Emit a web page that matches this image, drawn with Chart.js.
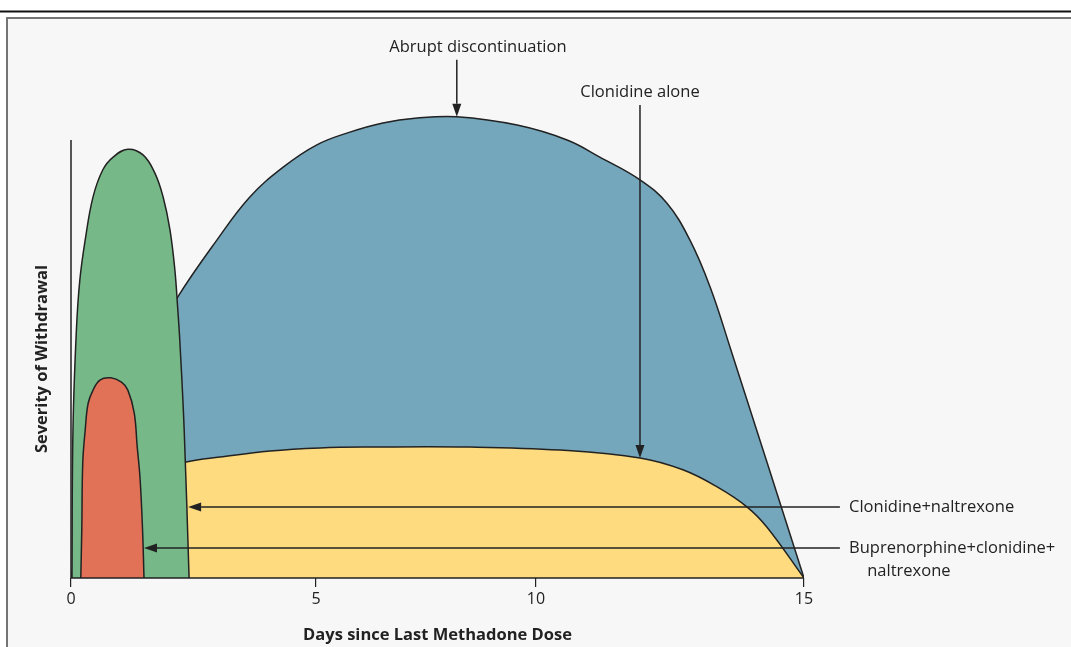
<!DOCTYPE html>
<html>
<head>
<meta charset="utf-8">
<script src="https://cdn.jsdelivr.net/npm/chart.js@4/dist/chart.umd.min.js"></script>
<style>
  html, body { margin: 0; padding: 0; background: #fff; }
  #wrap { width: 1071px; height: 647px; position: relative; }
</style>
</head>
<body>
<div id="wrap"><canvas id="withdrawalChart" width="1071" height="647"></canvas></div>
<script>
// days since last dose (x) and severity (y, 100 = top of axis)
const abruptDays = [0, 0.2, 0.8, 1.4, 2.18, 2.98, 3.65, 4.33, 5.02, 5.77, 6.52, 7.3, 8.2, 9.57, 10.58, 11.19, 11.94, 12.44, 12.87, 13.25, 13.62, 15];
const abruptSeverity = [0, 12, 33, 49, 64.2, 77.2, 87.0, 93.8, 98.9, 101.8, 103.9, 105.0, 105.3, 103.4, 100, 96.1, 90.9, 85.6, 77.2, 66.4, 52.7, 0];

const clonidineDays = [0, 0.3, 1.4, 2.35, 3.04, 4.06, 5.09, 6.23, 8.5, 10.45, 11.94, 12.74, 13.38, 13.94, 14.31, 15];
const clonidineSeverity = [0, 12, 24, 26.5, 27.6, 29.0, 29.7, 29.9, 29.9, 29.2, 27.4, 24.7, 20.8, 16.2, 11.6, 0];

const naltrexoneDays = [0.02, 0.04, 0.11, 0.18, 0.29, 0.45, 0.65, 0.86, 1.16, 1.47, 1.71, 1.88, 2.02, 2.12, 2.18, 2.22, 2.31, 2.41];
const naltrexoneSeverity = [0, 33.8, 56.6, 68.0, 77.2, 87.0, 93.2, 96.1, 97.9, 96.6, 92.5, 87.0, 79.5, 70.3, 61.2, 54.3, 33.8, 0];

const buprenorphineDays = [0.2, 0.22, 0.24, 0.29, 0.35, 0.45, 0.59, 0.81, 1.03, 1.16, 1.29, 1.35, 1.41, 1.46, 1.49];
const buprenorphineSeverity = [0, 11, 26.3, 33.8, 39.9, 42.9, 45.2, 45.7, 44.7, 42.9, 37.7, 30.1, 22.6, 11, 0];

const xTicks = [0, 5, 10, 15];
// the printed day axis is not evenly spaced: share of axis width at each tick
const xTickShare = [0, 245 / 733, 465 / 733, 1];

const toPoints = (xs, ys) => xs.map((x, i) => ({ x: x, y: ys[i] }));

const FONT = "'Open Sans', Lato, sans-serif";

// piecewise linear day axis, like the drawn one
class PiecewiseScale extends Chart.LinearScale {
  toShare(v) {
    let i = 1;
    while (i < xTicks.length - 1 && v > xTicks[i]) i++;
    const t = (v - xTicks[i - 1]) / (xTicks[i] - xTicks[i - 1]);
    return xTickShare[i - 1] + t * (xTickShare[i] - xTickShare[i - 1]);
  }
  getPixelForValue(value) {
    return this.getPixelForDecimal(this.toShare(value));
  }
  getValueForPixel(pixel) {
    const d = this.getDecimalForPixel(pixel);
    let i = 1;
    while (i < xTickShare.length - 1 && d > xTickShare[i]) i++;
    const t = (d - xTickShare[i - 1]) / (xTickShare[i] - xTickShare[i - 1]);
    return xTicks[i - 1] + t * (xTicks[i] - xTicks[i - 1]);
  }
}
PiecewiseScale.id = "piecewise";
PiecewiseScale.defaults = Chart.LinearScale.defaults;
Chart.register(PiecewiseScale);

// arrows: tip and tail in data units
const arrows = [
  { tip: [8.2, 105.3], tail: [8.2, 118.3] },
  { tip: [11.94, 27.4], tail: [11.94, 108] },
  { tip: [2.39, 16.2], tail: [15.67, 16.2] },
  { tip: [1.49, 6.85], tail: [15.67, 6.85] },
];
const labels = [
  { text: "Abrupt discontinuation", at: [8.68, 121.2], align: "center" },
  { text: "Clonidine alone", at: [11.94, 111], align: "center" },
  { text: "Clonidine+naltrexone", at: [15.84, 16.2], align: "left" },
  { text: "Buprenorphine+clonidine+", at: [15.84, 6.85], align: "left" },
  { text: "naltrexone", at: [16.18, 1.6], align: "left" },
];

const framePlugin = {
  id: "frame",
  beforeDraw(chart) {
    const ctx = chart.ctx;
    ctx.save();
    ctx.fillStyle = "#ffffff";
    ctx.fillRect(0, 0, chart.width, chart.height);
    ctx.fillStyle = "#f7f7f7";
    ctx.fillRect(7, 18, chart.width, chart.height);
    ctx.strokeStyle = "#747474";
    ctx.lineWidth = 2;
    ctx.beginPath();
    ctx.moveTo(7, chart.height + 2);
    ctx.lineTo(7, 18);
    ctx.lineTo(chart.width + 2, 18);
    ctx.stroke();
    ctx.strokeStyle = "#111";
    ctx.lineWidth = 2;
    ctx.beginPath();
    ctx.moveTo(0, 11.5);
    ctx.lineTo(chart.width, 11.5);
    ctx.stroke();
    ctx.restore();
  },
  afterDatasetsDraw(chart) {
    const ctx = chart.ctx;
    const xs = chart.scales.x, ys = chart.scales.y;
    ctx.save();
    // axes
    ctx.strokeStyle = "#222";
    ctx.lineWidth = 1.5;
    ctx.beginPath();
    ctx.moveTo(xs.getPixelForValue(0), ys.getPixelForValue(100));
    ctx.lineTo(xs.getPixelForValue(0), ys.getPixelForValue(0));
    ctx.lineTo(xs.getPixelForValue(15), ys.getPixelForValue(0));
    ctx.stroke();

    // arrows
    ctx.strokeStyle = "#222";
    ctx.fillStyle = "#222";
    ctx.lineWidth = 1.5;
    arrows.forEach((a) => {
      const tx = xs.getPixelForValue(a.tip[0]), ty = ys.getPixelForValue(a.tip[1]);
      const sx = xs.getPixelForValue(a.tail[0]), sy = ys.getPixelForValue(a.tail[1]);
      const ang = Math.atan2(ty - sy, tx - sx);
      const len = 13, half = 4.5;
      const bx = tx - len * Math.cos(ang), by = ty - len * Math.sin(ang);
      ctx.beginPath();
      ctx.moveTo(sx, sy);
      ctx.lineTo(bx, by);
      ctx.stroke();
      ctx.beginPath();
      ctx.moveTo(tx, ty);
      ctx.lineTo(bx + half * Math.sin(ang), by - half * Math.cos(ang));
      ctx.lineTo(bx - half * Math.sin(ang), by + half * Math.cos(ang));
      ctx.closePath();
      ctx.fill();
    });

    // annotation text
    ctx.fillStyle = "#222";
    ctx.font = "16.5px " + FONT;
    ctx.textBaseline = "middle";
    labels.forEach((l) => {
      ctx.textAlign = l.align;
      ctx.fillText(l.text, xs.getPixelForValue(l.at[0]), ys.getPixelForValue(l.at[1]));
    });

    // axis titles
    ctx.font = "bold 16.5px " + FONT;
    ctx.textAlign = "center";
    ctx.fillText("Days since Last Methadone Dose", (xs.left + xs.right) / 2, 635);
    ctx.translate(42, ys.getPixelForValue(50));
    ctx.rotate(-Math.PI / 2);
    ctx.fillText("Severity of Withdrawal", 0, 0);
    ctx.restore();
  },
};

const areaStyle = (color, order) => ({
  showLine: true,
  fill: "origin",
  backgroundColor: color,
  borderColor: "#222",
  borderWidth: 1.5,
  pointRadius: 0,
  tension: 0.4,
  order: order,
});

const ctx = document.getElementById("withdrawalChart").getContext("2d");
new Chart(ctx, {
  type: "scatter",
  data: {
    datasets: [
      { label: "Abrupt discontinuation", data: toPoints(abruptDays, abruptSeverity), ...areaStyle("#74a6bc", 4) },
      { label: "Clonidine alone", data: toPoints(clonidineDays, clonidineSeverity), ...areaStyle("#fedb7f", 3) },
      { label: "Clonidine+naltrexone", data: toPoints(naltrexoneDays, naltrexoneSeverity), ...areaStyle("#76b887", 2) },
      { label: "Buprenorphine+clonidine+naltrexone", data: toPoints(buprenorphineDays, buprenorphineSeverity), ...areaStyle("#e27257", 1) },
    ],
  },
  options: {
    responsive: false,
    animation: false,
    devicePixelRatio: 1,
    layout: { padding: { left: 0, right: 267, top: 52.4, bottom: 0 } },
    plugins: {
      legend: { display: false },
      tooltip: { enabled: false },
    },
    scales: {
      x: {
        type: "piecewise",
        min: 0,
        max: 15,
        afterFit: (s) => { s.height = 69; },
        afterBuildTicks: (s) => { s.ticks = xTicks.map((v) => ({ value: v })); },
        grid: { drawOnChartArea: false, tickLength: 9, tickColor: "#222", lineWidth: 1.2 },
        border: { display: false },
        ticks: { color: "#222", font: { family: FONT, size: 16 }, padding: 3 },
      },
      y: {
        min: 0,
        max: 120,
        afterFit: (s) => { s.width = 71; },
        grid: { display: false },
        border: { display: false },
        ticks: { display: false },
      },
    },
  },
  plugins: [framePlugin],
});
</script>
</body>
</html>
